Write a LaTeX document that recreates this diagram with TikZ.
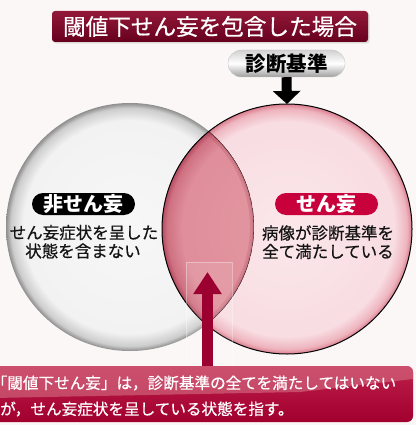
\documentclass[tikz,border=0pt]{standalone}
\usepackage{fontspec}
\newfontfamily\jp{Noto Sans CJK JP}
\newfontfamily\jpm[FakeBold=0.6]{Noto Sans CJK JP}
\usetikzlibrary{arrows.meta,shadows}
\definecolor{bgc}{HTML}{FAF7F6}
\definecolor{lcA}{HTML}{F7F7F7}
\definecolor{lcB}{HTML}{F2F2F2}
\definecolor{lcC}{HTML}{CDCDCD}
\definecolor{lcD}{HTML}{8E8E8E}
\definecolor{pkA}{HTML}{FBE7EA}
\definecolor{pkB}{HTML}{F8DDE2}
\definecolor{pkC}{HTML}{EEB4BE}
\definecolor{pkD}{HTML}{DA7D8E}
\definecolor{lnA}{HTML}{E398A2}
\definecolor{lnB}{HTML}{DF8E9A}
\definecolor{lnC}{HTML}{CF7182}
\definecolor{lnD}{HTML}{B34C60}
\definecolor{lensrim}{HTML}{9A3347}
\definecolor{titletop}{HTML}{93183A}
\definecolor{titlebot}{HTML}{66001C}
\definecolor{crim}{HTML}{C8003C}
\definecolor{arrowred}{HTML}{9C0030}
\definecolor{notetop}{HTML}{BE1F4A}
\definecolor{notebot}{HTML}{A2002E}
\definecolor{gloss}{HTML}{D8788C}
\pgfdeclareradialshading{grayball}{\pgfpoint{0bp}{0bp}}{color(0bp)=(lcA); color(21.5bp)=(lcB); color(24bp)=(lcC); color(25bp)=(lcD); color(50bp)=(lcD)}
\pgfdeclareradialshading{pinkball}{\pgfpoint{0bp}{0bp}}{color(0bp)=(pkA); color(21.5bp)=(pkB); color(24bp)=(pkC); color(25bp)=(pkD); color(50bp)=(pkD)}
\pgfdeclareradialshading{lensball}{\pgfpoint{0bp}{0bp}}{color(0bp)=(lnA); color(21bp)=(lnB); color(24bp)=(lnC); color(25bp)=(lnD); color(50bp)=(lnD)}
\begin{document}
\begin{tikzpicture}[x=1pt,y=-1pt,
  titlebox/.style={rounded corners=3pt, top color=titletop, bottom color=titlebot,
    minimum width=316pt, minimum height=31pt, inner sep=0pt, text=white,
    drop shadow={opacity=0.25, shadow xshift=1.5pt, shadow yshift=-1.5pt},
    font=\jpm\fontsize{22.6}{26}\selectfont},
  critpill/.style={rounded corners=13.5pt, top color=black!18, bottom color=black!38,
    middle color=white, draw=black!22, minimum width=117pt, minimum height=27pt,
    inner sep=0pt, font=\jp\bfseries\fontsize{20.5}{24}\selectfont},
  labelpill/.style={rounded corners=11pt, minimum width=103pt, minimum height=22pt,
    inner sep=0pt, text=white, font=\jp\bfseries\fontsize{20}{24}\selectfont},
  bodytext/.style={inner sep=0pt, text=black!92, font=\jpm\fontsize{16.5}{20}\selectfont},
  notebox/.style={rounded corners=6pt, top color=notetop, bottom color=notebot,
    minimum width=419pt, minimum height=56pt, inner sep=0pt},
  notetext/.style={inner sep=0pt, anchor=west, text=white, font=\jpm\fontsize{15.6}{19}\selectfont},
  bigarrow/.style={line width=10pt, -{Triangle[width=27pt,length=13pt]}},
  uparrow/.style={line width=11pt, arrowred, -{Triangle[width=27pt,length=22pt]}}]
\useasboundingbox (0,0) rectangle (416,425);
\fill[bgc] (0,0) rectangle (416,425);
\coordinate (L) at (130,227);
\coordinate (R) at (287,229);
\coordinate (Rtop) at (287,104);
\coordinate (ut) at (207.5,272);
% circles
\shade[shading=grayball] (L) circle (124pt);
\shade[shading=pinkball] (R) circle (125pt);
\begin{scope}
  \clip (L) circle (124pt);
  \shade[shading=lensball] (R) circle (125pt);
  \clip (R) circle (125pt);
  \draw[lensrim, line width=8pt, opacity=0.18] (L) circle (124pt);
  \draw[lensrim, line width=3pt, opacity=0.22] (L) circle (124pt);
  \draw[black!85, line width=0.8pt] (L) circle (124pt);
\end{scope}
\draw[black, line width=1pt] (R) circle (125pt);
% faint highlight
\draw[white, opacity=0.35, fill=white, fill opacity=0.1] (186,262) rectangle (232,366);
% labels
\node[labelpill, fill=black] (nonlab) at (83.5,204) {非せん妄};
\node[labelpill, fill=crim] (dellab) at (326.5,204) {せん妄};
\node[bodytext] (nl1) at (84,232.5) {せん妄症状を呈した};
\node[bodytext] (nl2) at (83,251) {状態を含まない};
\node[bodytext] (dl1) at (328,233) {病像が診断基準を};
\node[bodytext] (dl2) at (328,251.5) {全て満たしている};
% title and criteria
\node[titlebox] (title) at (210,26.5) {閾値下せん妄を包含した場合};
\node[critpill] (crit) at (286.5,63.5) {診断基準};
\draw[bigarrow] (crit.south) -- (Rtop);
% bottom note
\node[notebox] (note) at (203.5,394) {};
\begin{scope}
  \clip[rounded corners=6pt] (-6,366) rectangle (413,422);
  \fill[gloss, opacity=0.55] (-6,366) -- (413,366) -- (413,379) -- (300,392) -- (-6,398) -- cycle;
\end{scope}
\draw[uparrow] (ut |- note.north) -- (ut);
\node[notetext] (t1) at (-8.5,383) {「閾値下せん妄」は，診断基準の全てを満たしてはいない};
\node[notetext] (t2) at (0,409) {が，せん妄症状を呈している状態を指す。};
\end{tikzpicture}
\end{document}
